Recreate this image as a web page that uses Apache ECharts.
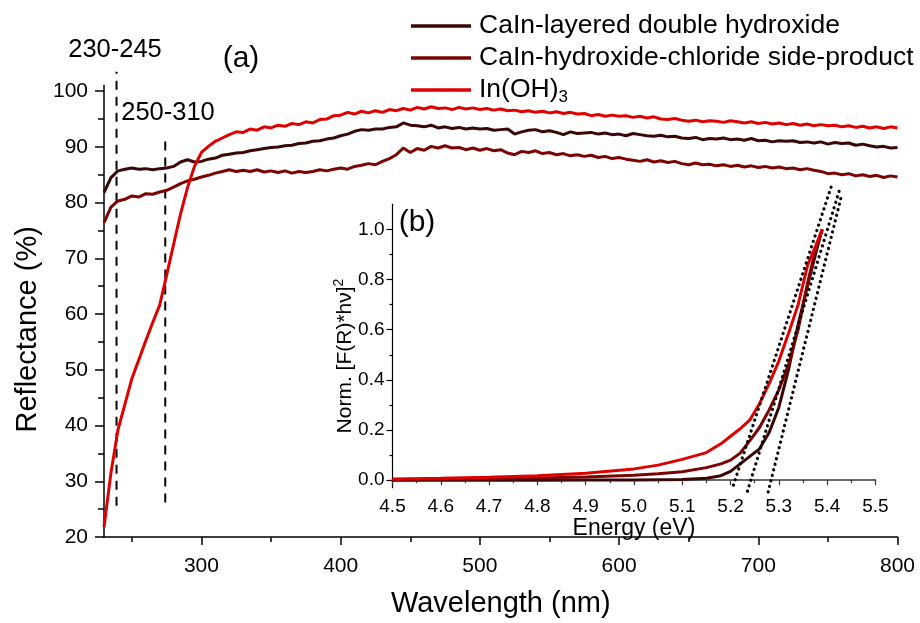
<!DOCTYPE html>
<html><head><meta charset="utf-8">
<script src="https://cdn.jsdelivr.net/npm/echarts@6/dist/echarts.min.js"></script>
<style>html,body{margin:0;padding:0;background:#fff}#c{width:920px;height:623px}</style>
</head><body><div id="c"></div>
<script>
// ---- main panel (a): reflectance vs wavelength ----
const wavelengths = [230,235,240,245,250,255,260,265,270,275,280,285,290,295,300,305,310,315,320,325,
330,335,340,345,350,355,360,365,370,375,380,385,390,395,400,405,410,415,420,425,
430,435,440,445,450,455,460,465,470,475,480,485,490,495,500,505,510,515,520,525,
530,535,540,545,550,555,560,565,570,575,580,585,590,595,600,605,610,615,620,625,
630,635,640,645,650,655,660,665,670,675,680,685,690,695,700,705,710,715,720,725,
730,735,740,745,750,755,760,765,770,775,780,785,790,795,800];
const ldh = [81.8,84.5,85.7,86.0,86.2,86.0,86.1,85.9,86.1,86.2,86.5,87.3,87.7,87.3,87.4,87.8,88.0,88.5,88.7,88.9,
89.0,89.3,89.5,89.7,89.9,90.0,90.2,90.3,90.6,90.7,91.0,91.1,91.4,91.6,92.0,92.3,92.8,93.1,93.0,93.2,
93.2,93.5,93.6,94.3,93.9,93.8,93.6,93.9,93.4,93.6,93.3,93.5,93.2,93.4,93.2,93.3,93.0,93.1,93.2,92.3,
92.7,93.0,93.1,92.7,92.9,92.6,92.2,92.7,92.4,92.5,92.6,92.3,92.5,92.2,92.3,92.0,92.4,92.2,92.0,91.9,
92.1,91.8,91.9,91.6,91.5,91.7,91.3,91.5,91.4,91.6,91.3,91.4,91.2,91.5,91.1,91.2,90.9,91.1,91.0,91.1,
90.8,90.9,90.7,90.9,90.5,90.8,90.6,90.7,90.3,90.5,90.2,90.0,90.1,89.8,89.9];
const sideProduct = [76.4,79.2,80.3,80.6,81.2,81.0,81.6,81.5,81.9,82.2,82.8,83.4,83.9,84.2,84.6,84.9,85.3,85.6,85.9,85.6,
85.8,85.6,85.9,85.5,85.7,85.4,85.7,85.3,85.6,85.4,85.6,85.9,85.7,86.0,86.2,86.0,86.5,86.7,87.0,86.8,
87.4,87.9,88.6,89.8,89.0,89.7,89.4,90.1,89.8,90.2,89.8,89.9,89.5,89.8,89.4,89.7,89.3,89.5,88.9,88.6,
89.2,89.0,89.3,88.8,89.0,88.6,88.8,88.4,88.6,88.3,88.5,88.1,88.3,87.9,88.1,87.8,87.6,87.4,87.7,87.3,
87.5,87.2,87.4,87.0,86.8,87.1,86.8,86.9,86.6,86.8,86.5,86.7,86.4,86.6,86.3,86.5,86.2,86.4,86.1,86.2,
85.9,86.1,85.8,85.6,85.2,85.3,85.0,85.2,84.8,85.0,84.7,84.9,84.5,84.8,84.6];
const inOH3 = [21.8,31.5,39.2,43.8,48.4,51.8,55.2,58.5,61.6,67.0,72.5,78.0,82.7,86.5,89.0,90.1,91.0,91.6,92.2,92.7,
92.6,93.2,93.0,93.6,93.4,93.9,93.7,94.2,94.0,94.5,94.3,94.9,95.0,95.6,95.7,96.2,95.9,96.4,96.1,96.5,
96.2,96.7,96.5,96.9,96.6,97.1,96.8,97.2,96.9,97.0,96.7,97.1,96.8,97.0,96.7,96.9,96.6,96.8,96.5,96.6,
96.3,96.5,96.2,96.4,96.1,96.3,96.0,96.2,95.9,96.0,95.6,95.8,95.5,95.7,95.5,95.6,95.3,95.5,95.2,95.4,
95.0,94.9,95.1,94.8,94.6,94.8,94.5,94.7,94.6,94.4,94.7,94.5,94.3,94.5,94.2,94.4,94.1,94.3,94.0,94.2,
93.9,94.1,93.8,94.0,93.8,93.9,93.6,93.8,93.5,93.7,93.4,93.6,93.3,93.6,93.4];
const seriesNames = ['CaIn-layered double hydroxide','CaIn-hydroxide-chloride side-product','In(OH)3'];
const seriesColors = ['#3a0606','#7d0303','#e00000'];
// dashed marker lines (wavelength, bottom and top in %)
const markerWavelengths = [239, 274];
const markerBottom = [25.6, 26.2];
const markerTop = [103.5, 92.2];
const markerLabels = ['230-245', '250-310'];
const mainXTicks = [300,400,500,600,700,800];
const mainXMinor = [250,350,450,550,650,750];
const mainYTicks = [20,30,40,50,60,70,80,90,100];
const mainYMinor = [25,35,45,55,65,75,85,95];

// ---- inset panel (b): Tauc plot ----
const energies = [4.50,4.60,4.70,4.80,4.90,5.00,5.05,5.10,5.15,5.18,5.20,5.22,5.24,5.26,5.28,5.30,5.32,5.34,5.36,5.38,5.39];
const taucLdh = [0.000,0.000,0.000,0.000,0.001,0.001,0.002,0.003,0.008,0.018,0.035,0.065,0.095,0.125,0.190,0.290,0.440,0.620,0.780,0.930,1.000];
const taucSide = [0.002,0.004,0.006,0.009,0.013,0.020,0.026,0.034,0.050,0.065,0.080,0.108,0.158,0.210,0.280,0.360,0.460,0.600,0.790,0.950,1.000];
const taucInOH3 = [0.005,0.008,0.012,0.018,0.028,0.045,0.060,0.083,0.110,0.145,0.175,0.205,0.240,0.305,0.385,0.475,0.585,0.700,0.860,0.950,1.000];
const tangentX = [[5.206,5.409],[5.235,5.425],[5.278,5.431]];
const tangentY = [[-0.02,1.173],[-0.044,1.153],[-0.047,1.144]];
const insetYTicks = [0,0.2,0.4,0.6,0.8,1.0];
const insetYMinor = [0.1,0.3,0.5,0.7,0.9];

const FF = '"Liberation Sans", Arial, sans-serif';
const zip = (xs, ys) => xs.map((x, i) => [x, ys[i]]);

const series = [];
[ldh, sideProduct, inOH3].forEach((vals, i) => {
  series.push({name: seriesNames[i], type: 'line', xAxisIndex: 0, yAxisIndex: 0, data: zip(wavelengths, vals),
    symbol: 'none', color: seriesColors[i], lineStyle: {width: 3, color: seriesColors[i]}, z: 3 + (i === 2 ? 1 : 0)});
});
markerWavelengths.forEach((w, i) => {
  series.push({type: 'line', xAxisIndex: 0, yAxisIndex: 0, clip: false, symbol: 'none', silent: true,
    data: [[w, markerBottom[i]], [w, markerTop[i]]], lineStyle: {color: '#000', width: 2, type: [9, 7]}, z: 2});
});
[taucLdh, taucSide, taucInOH3].forEach((vals, i) => {
  series.push({type: 'line', xAxisIndex: 2, yAxisIndex: 2, data: zip(energies, vals), symbol: 'none',
    lineStyle: {width: 3, color: seriesColors[i]}, z: 3});
});
tangentX.forEach((xs, i) => {
  series.push({type: 'line', xAxisIndex: 2, yAxisIndex: 2, clip: false, symbol: 'none', silent: true,
    data: zip(xs, tangentY[i]), lineStyle: {color: '#000', width: 3.2, type: [0.1, 5.6], cap: 'round'}, z: 5});
});

const chart = echarts.init(document.getElementById('c'));
const mk = (o) => Object.assign({splitLine: {show: false}}, o);
chart.setOption({
  animation: false,
  backgroundColor: '#fff',
  textStyle: {fontFamily: FF},
  grid: [
    {left: 104, right: 22.5, top: 85.6, bottom: 83},
    {left: 392.5, right: 44.6, top: 204.3, bottom: 135.3}
  ],
  legend: {
    orient: 'vertical', left: 411, top: 11, padding: 0, icon: 'rect', itemWidth: 60, itemHeight: 3.5, itemGap: 2,
    selectedMode: false, data: seriesNames,
    formatter: n => n === 'In(OH)3' ? 'In(OH){sub|3}' : n,
    textStyle: {fontSize: 26.5, color: '#000', fontFamily: FF, lineHeight: 30, padding: [0, 0, 0, 3],
      rich: {sub: {fontSize: 17, fontFamily: FF, color: '#000', padding: [15, 0, 0, 0]}}}
  },
  xAxis: [
    mk({gridIndex: 0, type: 'value', min: 230, max: 800, position: 'bottom',
      axisLine: {lineStyle: {color: '#000', width: 1.5}},
      axisTick: {length: 8, customValues: mainXTicks, lineStyle: {color: '#000', width: 1.5}},
      axisLabel: {customValues: mainXTicks, fontSize: 21, margin: 19, color: '#000', fontFamily: FF},
      name: 'Wavelength (nm)', nameLocation: 'middle', nameGap: 52,
      nameTextStyle: {fontSize: 29, color: '#000', fontFamily: FF}}),
    mk({gridIndex: 0, type: 'value', min: 230, max: 800, position: 'bottom',
      axisLine: {show: false}, axisLabel: {show: false},
      axisTick: {length: 5, customValues: mainXMinor, lineStyle: {color: '#000', width: 1.5}}}),
    mk({gridIndex: 1, type: 'value', min: 4.5, max: 5.5, interval: 0.1, position: 'bottom',
      axisLine: {lineStyle: {color: '#666', width: 2}},
      axisTick: {length: 5, lineStyle: {color: '#333', width: 1.2}},
      minorTick: {show: true, splitNumber: 2, length: 3, lineStyle: {color: '#333', width: 1.2}},
      axisLabel: {formatter: v => v.toFixed(1), fontSize: 19, margin: 10, color: '#000', fontFamily: FF},
      name: 'Energy (eV)', nameLocation: 'middle', nameGap: 23,
      nameTextStyle: {fontSize: 23, color: '#000', fontFamily: FF}})
  ],
  yAxis: [
    mk({gridIndex: 0, type: 'value', min: 20, max: 101, position: 'left',
      axisLine: {show: true, lineStyle: {color: '#000', width: 1.5}},
      axisTick: {show: true, length: 9, customValues: mainYTicks, lineStyle: {color: '#000', width: 1.5}},
      axisLabel: {customValues: mainYTicks, fontSize: 21, margin: 16, color: '#000', fontFamily: FF},
      name: 'Reflectance (%)', nameLocation: 'middle', nameGap: 62,
      nameTextStyle: {fontSize: 29, color: '#000', fontFamily: FF, padding: [0, 36, 0, 0]}}),
    mk({gridIndex: 0, type: 'value', min: 20, max: 101, position: 'left',
      axisLine: {show: false}, axisLabel: {show: false},
      axisTick: {show: true, length: 6, customValues: mainYMinor, lineStyle: {color: '#000', width: 1.5}}}),
    mk({gridIndex: 1, type: 'value', min: -0.03, max: 1.1, position: 'left',
      axisLine: {show: true, lineStyle: {color: '#000', width: 1.2}},
      axisTick: {show: true, length: 6, customValues: insetYTicks, lineStyle: {color: '#000', width: 1.2}},
      axisLabel: {customValues: insetYTicks, formatter: v => v.toFixed(1), fontSize: 19, margin: 8, color: '#000', fontFamily: FF}}),
    mk({gridIndex: 1, type: 'value', min: -0.03, max: 1.1, position: 'left',
      axisLine: {show: false}, axisLabel: {show: false},
      axisTick: {show: true, length: 3, customValues: insetYMinor, lineStyle: {color: '#000', width: 1.2}}})
  ],
  graphic: [
    {type: 'text', x: 115, y: 50, style: {text: markerLabels[0], fontSize: 25.5, fontFamily: FF, fill: '#000', align: 'center', verticalAlign: 'middle'}},
    {type: 'text', x: 168, y: 113, style: {text: markerLabels[1], fontSize: 25.5, fontFamily: FF, fill: '#000', align: 'center', verticalAlign: 'middle'}},
    {type: 'text', x: 241, y: 59, style: {text: '(a)', fontSize: 30, fontFamily: FF, fill: '#000', align: 'center', verticalAlign: 'middle'}},
    {type: 'text', x: 417, y: 223, style: {text: '(b)', fontSize: 30, fontFamily: FF, fill: '#000', align: 'center', verticalAlign: 'middle'}},
    {type: 'text', x: 345, y: 356, rotation: Math.PI / 2,
      style: {text: 'Norm. [F(R)*hν]{sup|2}', fontSize: 21, fontFamily: FF, fill: '#000', align: 'center', verticalAlign: 'middle',
        rich: {sup: {fontSize: 14, fontFamily: FF, fill: '#000', padding: [0, 0, 12, 0]}}}}
  ],
  series: series
});
</script></body></html>
